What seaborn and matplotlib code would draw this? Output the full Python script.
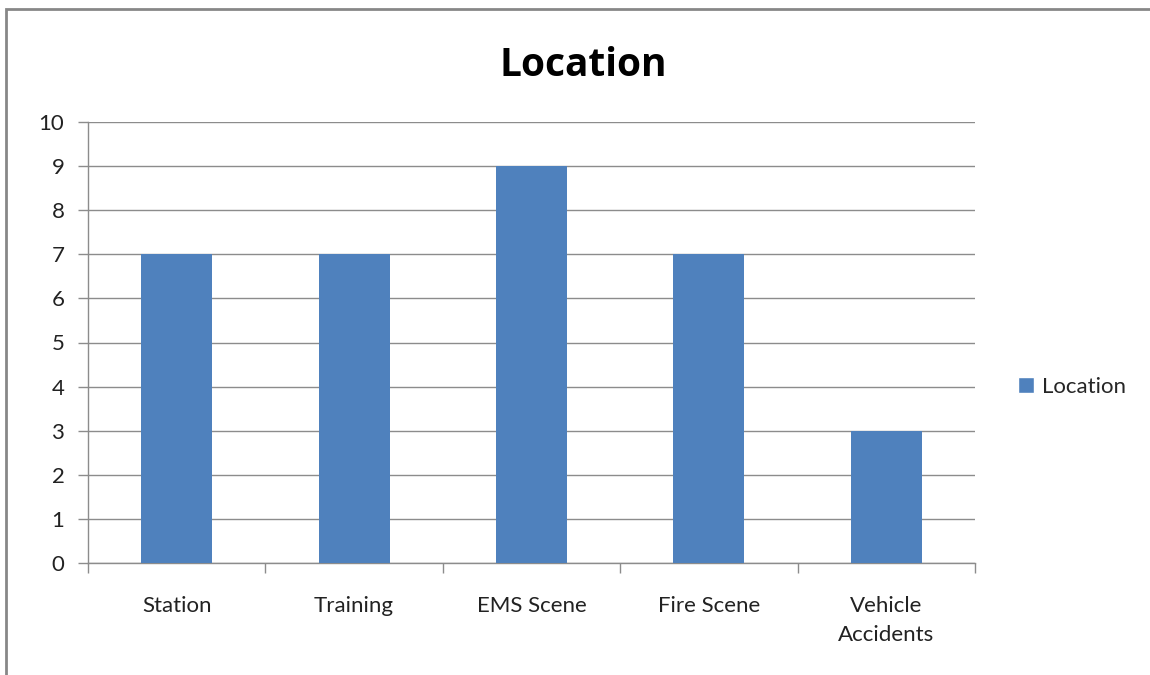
import matplotlib
matplotlib.use("Agg")
import matplotlib.pyplot as plt
import seaborn as sns
import pandas as pd
from matplotlib.patches import Rectangle, Patch

categories = ["Station", "Training", "EMS Scene", "Fire Scene", "Vehicle\nAccidents"]
values = [7, 7, 9, 7, 3]
y_ticks = list(range(0, 11))
series_name = "Location"

bar_color = "#4F81BD"
grid_color = "#8C8C8C"
text_color = "#222222"

sns.set_theme(style="white")
plt.rcParams["font.family"] = ["Lato", "DejaVu Sans"]

df = pd.DataFrame({"cat": categories, "val": values})

fig = plt.figure(figsize=(11.5, 6.75), dpi=100)
ax = fig.add_axes([88 / 1150, 1 - 563 / 675, (975 - 88) / 1150, (563 - 122) / 675])

sns.barplot(data=df, x="cat", y="val", color=bar_color, width=0.4,
            saturation=1, linewidth=0, ax=ax, zorder=3)

ax.set_xlim(-0.5, len(categories) - 0.5)
ax.set_ylim(0, 10)
ax.set_yticks(y_ticks)
ax.set_yticklabels([str(t) for t in y_ticks], fontsize=16, color=text_color)
ax.yaxis.grid(True, color=grid_color, linewidth=1.0, zorder=0)
ax.set_xlabel("")
ax.set_ylabel("")

# category labels centred, tick marks at the boundaries
ax.set_xticks([i - 0.5 for i in range(len(categories) + 1)])
ax.set_xticklabels([])
ax.set_xticks(range(len(categories)), minor=True)
ax.set_xticklabels(categories, minor=True, fontsize=16, color=text_color,
                   linespacing=1.55)
ax.tick_params(axis="x", which="major", direction="out", length=7,
               color=grid_color, width=1.0, bottom=True)
ax.tick_params(axis="x", which="minor", length=0, pad=24)
ax.tick_params(axis="y", direction="out", length=7, color=grid_color,
               width=1.0, left=True, pad=10)

for side in ["top", "right"]:
    ax.spines[side].set_visible(False)
for side in ["left", "bottom"]:
    ax.spines[side].set_color(grid_color)
    ax.spines[side].set_linewidth(1.0)

fig.text(583 / 1150, 1 - 65 / 675, "Location", ha="center", va="center",
         fontsize=28, fontweight="bold", color="#000000",
         family=["Open Sans", "DejaVu Sans"])

fig.legend(handles=[Patch(facecolor=bar_color, label=series_name)],
           loc="center left", bbox_to_anchor=(998 / 1150, 1 - 387 / 675),
           frameon=False, fontsize=16, handlelength=0.7, handleheight=0.7,
           handletextpad=0.4)

fig.patches.append(Rectangle((6 / 1150, -0.1), 1.2, 1 - 9 / 675 + 0.1,
                             transform=fig.transFigure, fill=False,
                             edgecolor="#878787", linewidth=2.0))

fig.savefig("out.png", dpi=100)
